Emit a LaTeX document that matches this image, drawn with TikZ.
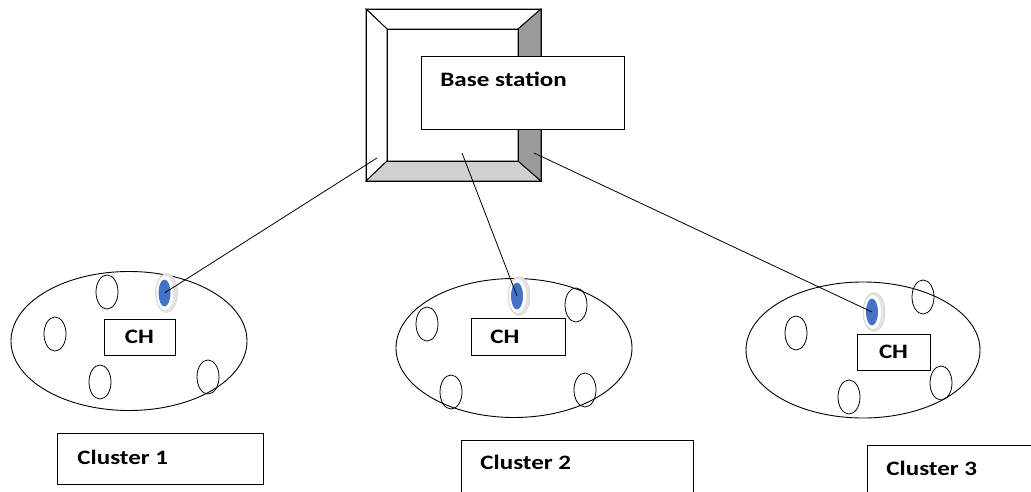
\documentclass[tikz,border=0pt]{standalone}
\usepackage{fontspec}
\setmainfont{Carlito}
\newfontfamily\lblfont[FakeStretch=1.22]{Carlito}
\usetikzlibrary{shapes.geometric}
\definecolor{chblue}{RGB}{68,114,196}
\definecolor{bevdark}{RGB}{154,154,154}
\definecolor{bevlight}{RGB}{208,208,208}
\begin{document}
\begin{tikzpicture}[x=1pt,y=-1pt,line width=0.9pt,
  cluster/.style={ellipse,draw,minimum width=236,minimum height=139,inner sep=0},
  sensor/.style={ellipse,draw,line width=0.8pt,minimum width=22,minimum height=34,inner sep=0},
  labbox/.style={draw,line width=0.8pt,fill=white,inner sep=0},
  labtext/.style={font=\lblfont\bfseries\fontsize{20.5}{24}\selectfont,anchor=west,inner sep=0},
  chtext/.style={font=\lblfont\bfseries\fontsize{20.5}{24}\selectfont,inner sep=0},
  halo/.style={ellipse,draw=gray!35,line width=0.6pt,fill=gray!22,minimum width=22,minimum height=39,inner sep=0},
  rim/.style={ellipse,fill=white,minimum width=17,minimum height=34,inner sep=0},
  dot/.style={ellipse,fill=chblue,minimum width=12,minimum height=27,inner sep=0},
  link/.style={line width=0.8pt}]
\useasboundingbox (0,0) rectangle (1031,492);
\clip (0,0) rectangle (1031,492);

% base station: bevelled frame
\filldraw[fill=white] (366,9) -- (541,9) -- (518,29) -- (387,29) -- cycle;
\filldraw[fill=white] (366,9) -- (387,29) -- (387,161) -- (366,181) -- cycle;
\filldraw[fill=bevlight] (366,181) -- (387,161) -- (518,161) -- (541,181) -- cycle;
\filldraw[fill=bevdark] (541,9) -- (518,29) -- (518,161) -- (541,181) -- cycle;
\draw (366,9) rectangle (541,181);
\draw (387,29) rectangle (518,161);

\node[labbox,minimum width=203,minimum height=73] (bs) at (522.5,92.5) {};
\node[labtext] (bstext) at (440,79) {Base station};

\coordinate (bsL) at (377,158);
\coordinate (bsM) at (462,153);
\coordinate (bsR) at (534,153);

% clusters
\node[cluster] (c1) at (129,341) {};
\node[cluster] (c2) at (514,348) {};
\node[cluster,minimum width=234,minimum height=136] (c3) at (863,350) {};

% ordinary sensor nodes
\foreach \x/\y [count=\i] in {107/292,55/334,100/382,208/377,
                           427/324,576/305,451/392,585/390,
                           796/333,923/297,941/383,849/397}
  \node[sensor] (s\i) at (\x,\y) {};

% cluster-head boxes
\node[labbox,minimum width=71,minimum height=36] (ch1) at (139.5,337) {};
\node[chtext] at (ch1) {CH};
\node[labbox,minimum width=94,minimum height=37] (ch2) at (518,336.5) {};
\node[chtext] at ([xshift=-13]ch2.center) {CH};
\node[labbox,minimum width=73,minimum height=36] (ch3) at (893.5,352) {};
\node[chtext] at (ch3) {CH};

% cluster heads
\foreach \n/\x/\y in {h1/166.5/293,h2/519/296,h3/874/312}{
  \node[halo] (\n-halo) at (\x,\y) {};
  \node[rim] at ([xshift=-1.5]\n-halo.center) {};
  \node[dot] (\n) at ([xshift=-2]\n-halo.center) {};
}

% links to the base station
\draw[link] (bsL) -- (h1.center);
\draw[link] (bsM) -- (h2.center);
\draw[link] (bsR) -- (h3.center);

% cluster labels
\node[labbox,minimum width=206,minimum height=51] (l1) at (160,458.5) {};
\node[labtext] at (77,457) {Cluster 1};
\node[labbox,minimum width=232,minimum height=60] (l2) at (577,470) {};
\node[labtext] at (480,462) {Cluster 2};
\node[labbox,minimum width=200,minimum height=60] (l3) at (967,475) {};
\node[labtext] at (886,468) {Cluster 3};
\end{tikzpicture}
\end{document}
